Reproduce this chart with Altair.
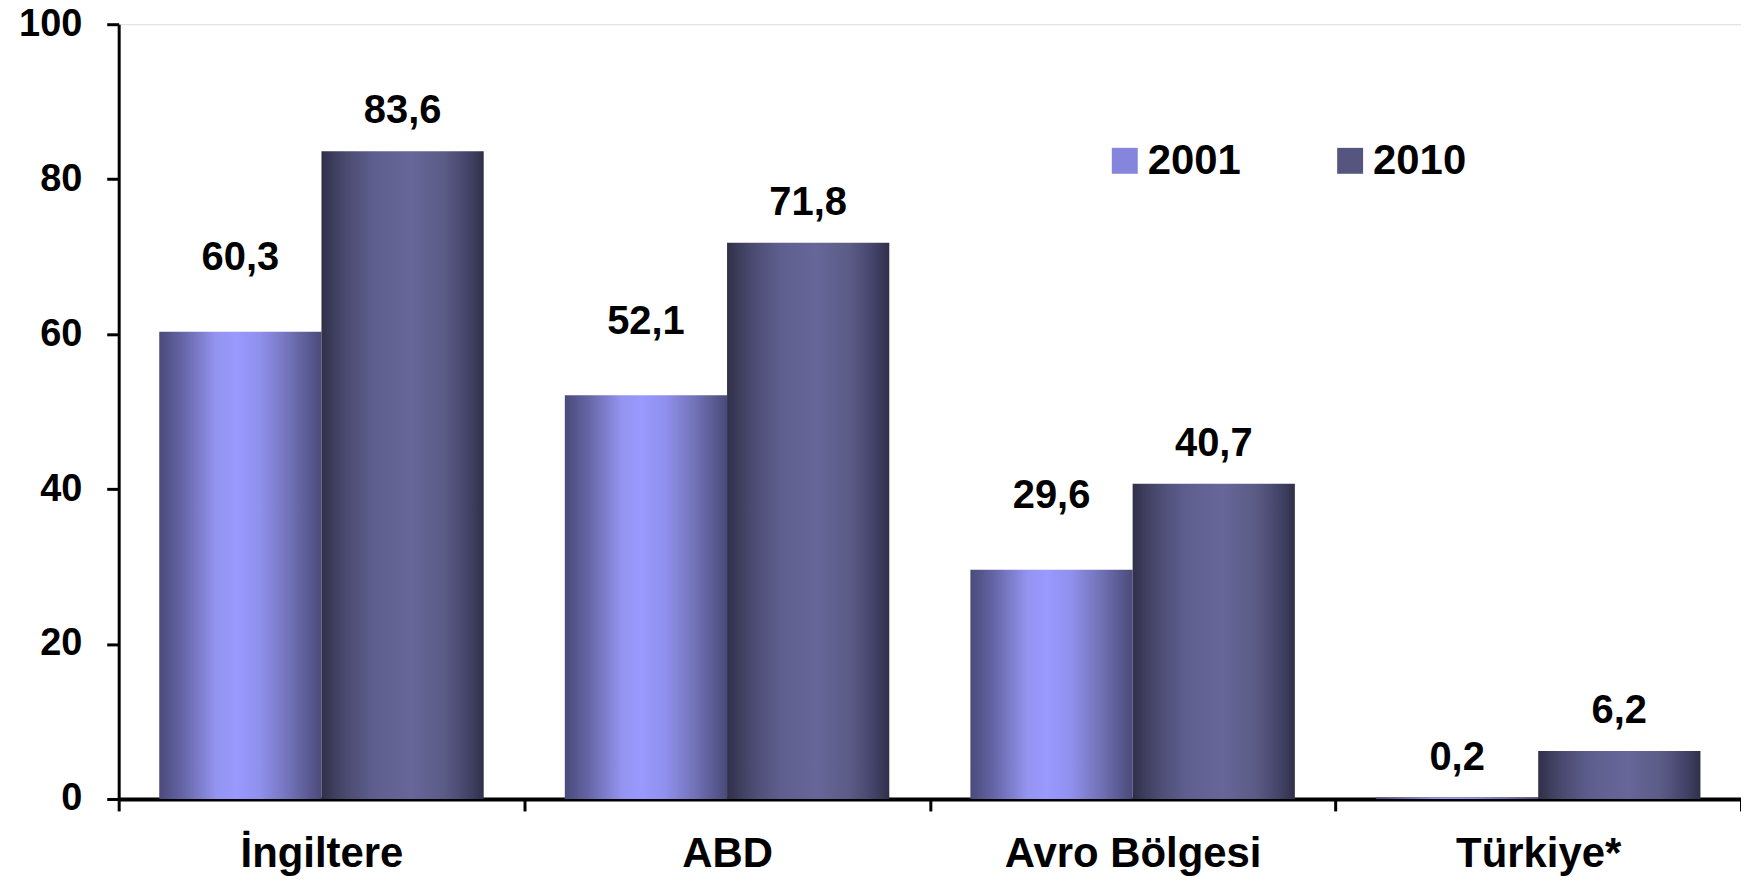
import altair as alt
import pandas as pd

categories = ["İngiltere", "ABD", "Avro Bölgesi", "Türkiye*"]
series = ["2001", "2010"]
values_2001 = [60.3, 52.1, 29.6, 0.2]
values_2010 = [83.6, 71.8, 40.7, 6.2]

rows = []
for c, v in zip(categories, values_2001):
    rows.append({"category": c, "series": "2001", "value": v})
for c, v in zip(categories, values_2010):
    rows.append({"category": c, "series": "2010", "value": v})
df = pd.DataFrame(rows)

FONT = "Liberation Sans"

x_enc = alt.X(
    "category:N",
    sort=categories,
    title=None,
    scale=alt.Scale(paddingInner=0, paddingOuter=0),
    axis=alt.Axis(
        labelAngle=0,
        labelFont=FONT,
        labelFontSize=42,
        labelFontWeight="bold",
        labelColor="black",
        labelPadding=23,
        labelLimit=0,
        tickBand="extent",
        tickSize=12,
        tickWidth=3,
        tickColor="black",
        domainWidth=4,
        domainColor="black",
        grid=False,
    ),
)
xoff_enc = alt.XOffset(
    "series:N", scale=alt.Scale(domain=series, paddingInner=0, paddingOuter=0.25)
)
y_axis = alt.Axis(
    values=[0, 20, 40, 60, 80, 100],
    labelFont=FONT,
    labelFontSize=38,
    labelFontWeight="bold",
    labelColor="black",
    labelPadding=25,
    tickSize=12,
    tickWidth=3,
    tickColor="black",
    domainWidth=3,
    domainColor="black",
    grid=False,
)
y_scale = alt.Scale(domain=[0, 100], nice=False)
y_enc = alt.Y("value:Q", title=None, scale=y_scale, axis=y_axis)

grad_2001 = alt.Gradient(
    gradient="linear",
    x1=0, x2=1, y1=0, y2=0,
    stops=[
        alt.GradientStop(color="#4A4A7A", offset=0),
        alt.GradientStop(color="#6666A8", offset=0.15),
        alt.GradientStop(color="#9494F0", offset=0.35),
        alt.GradientStop(color="#9999FF", offset=0.47),
        alt.GradientStop(color="#9090EE", offset=0.62),
        alt.GradientStop(color="#7272B8", offset=0.8),
        alt.GradientStop(color="#4A4A7A", offset=1),
    ],
)
grad_2010 = alt.Gradient(
    gradient="linear",
    x1=0, x2=1, y1=0, y2=0,
    stops=[
        alt.GradientStop(color="#30304A", offset=0),
        alt.GradientStop(color="#4A4A70", offset=0.15),
        alt.GradientStop(color="#5E5E8E", offset=0.32),
        alt.GradientStop(color="#666699", offset=0.55),
        alt.GradientStop(color="#5C5C88", offset=0.75),
        alt.GradientStop(color="#44446A", offset=0.9),
        alt.GradientStop(color="#30304A", offset=1),
    ],
)

base = alt.Chart(df)

bars_2001 = base.transform_filter(alt.datum.series == "2001").mark_bar(
    fill=grad_2001, strokeWidth=0
).encode(x=x_enc, xOffset=xoff_enc, y=y_enc)

bars_2010 = base.transform_filter(alt.datum.series == "2010").mark_bar(
    fill=grad_2010, strokeWidth=0
).encode(x=x_enc, xOffset=xoff_enc, y=y_enc)

legend_layer = base.mark_square(opacity=0, size=1).encode(
    x=x_enc,
    xOffset=xoff_enc,
    y=y_enc,
    color=alt.Color(
        "series:N",
        scale=alt.Scale(domain=series, range=["#8585DD", "#555580"]),
        legend=alt.Legend(
            title=None,
            orient="none",
            legendX=988,
            legendY=116,
            direction="horizontal",
            columns=2,
            symbolType="square",
            symbolSize=676,
            symbolOpacity=1,
            symbolStrokeWidth=0,
            labelFont=FONT,
            labelFontSize=42,
            labelFontWeight="bold",
            labelColor="black",
            labelOffset=2,
            columnPadding=88,
            padding=0,
        ),
    ),
)

labels = base.transform_calculate(
    label="replace(format(datum.value, '.1f'), '.', ',')",
    label_y="datum.value + (datum.series == '2001' && datum.value > 1 ? 4.35 : 0)",
).mark_text(
    font=FONT, fontSize=40, fontWeight="bold", color="black", baseline="alphabetic", dy=-28
).encode(
    x=x_enc,
    xOffset=xoff_enc,
    y=alt.Y("label_y:Q", title=None, scale=y_scale, axis=y_axis),
    text="label:N",
)

chart = alt.layer(bars_2001, bars_2010, legend_layer, labels).properties(
    width=1627,
    height=777,
    padding={"left": 111, "top": 15, "right": 0, "bottom": 79},
    autosize=alt.AutoSizeParams(type="none"),
).configure_view(stroke=None).configure(background="white")

chart.save("out.html", embed_options={"renderer": "svg", "actions": False})
